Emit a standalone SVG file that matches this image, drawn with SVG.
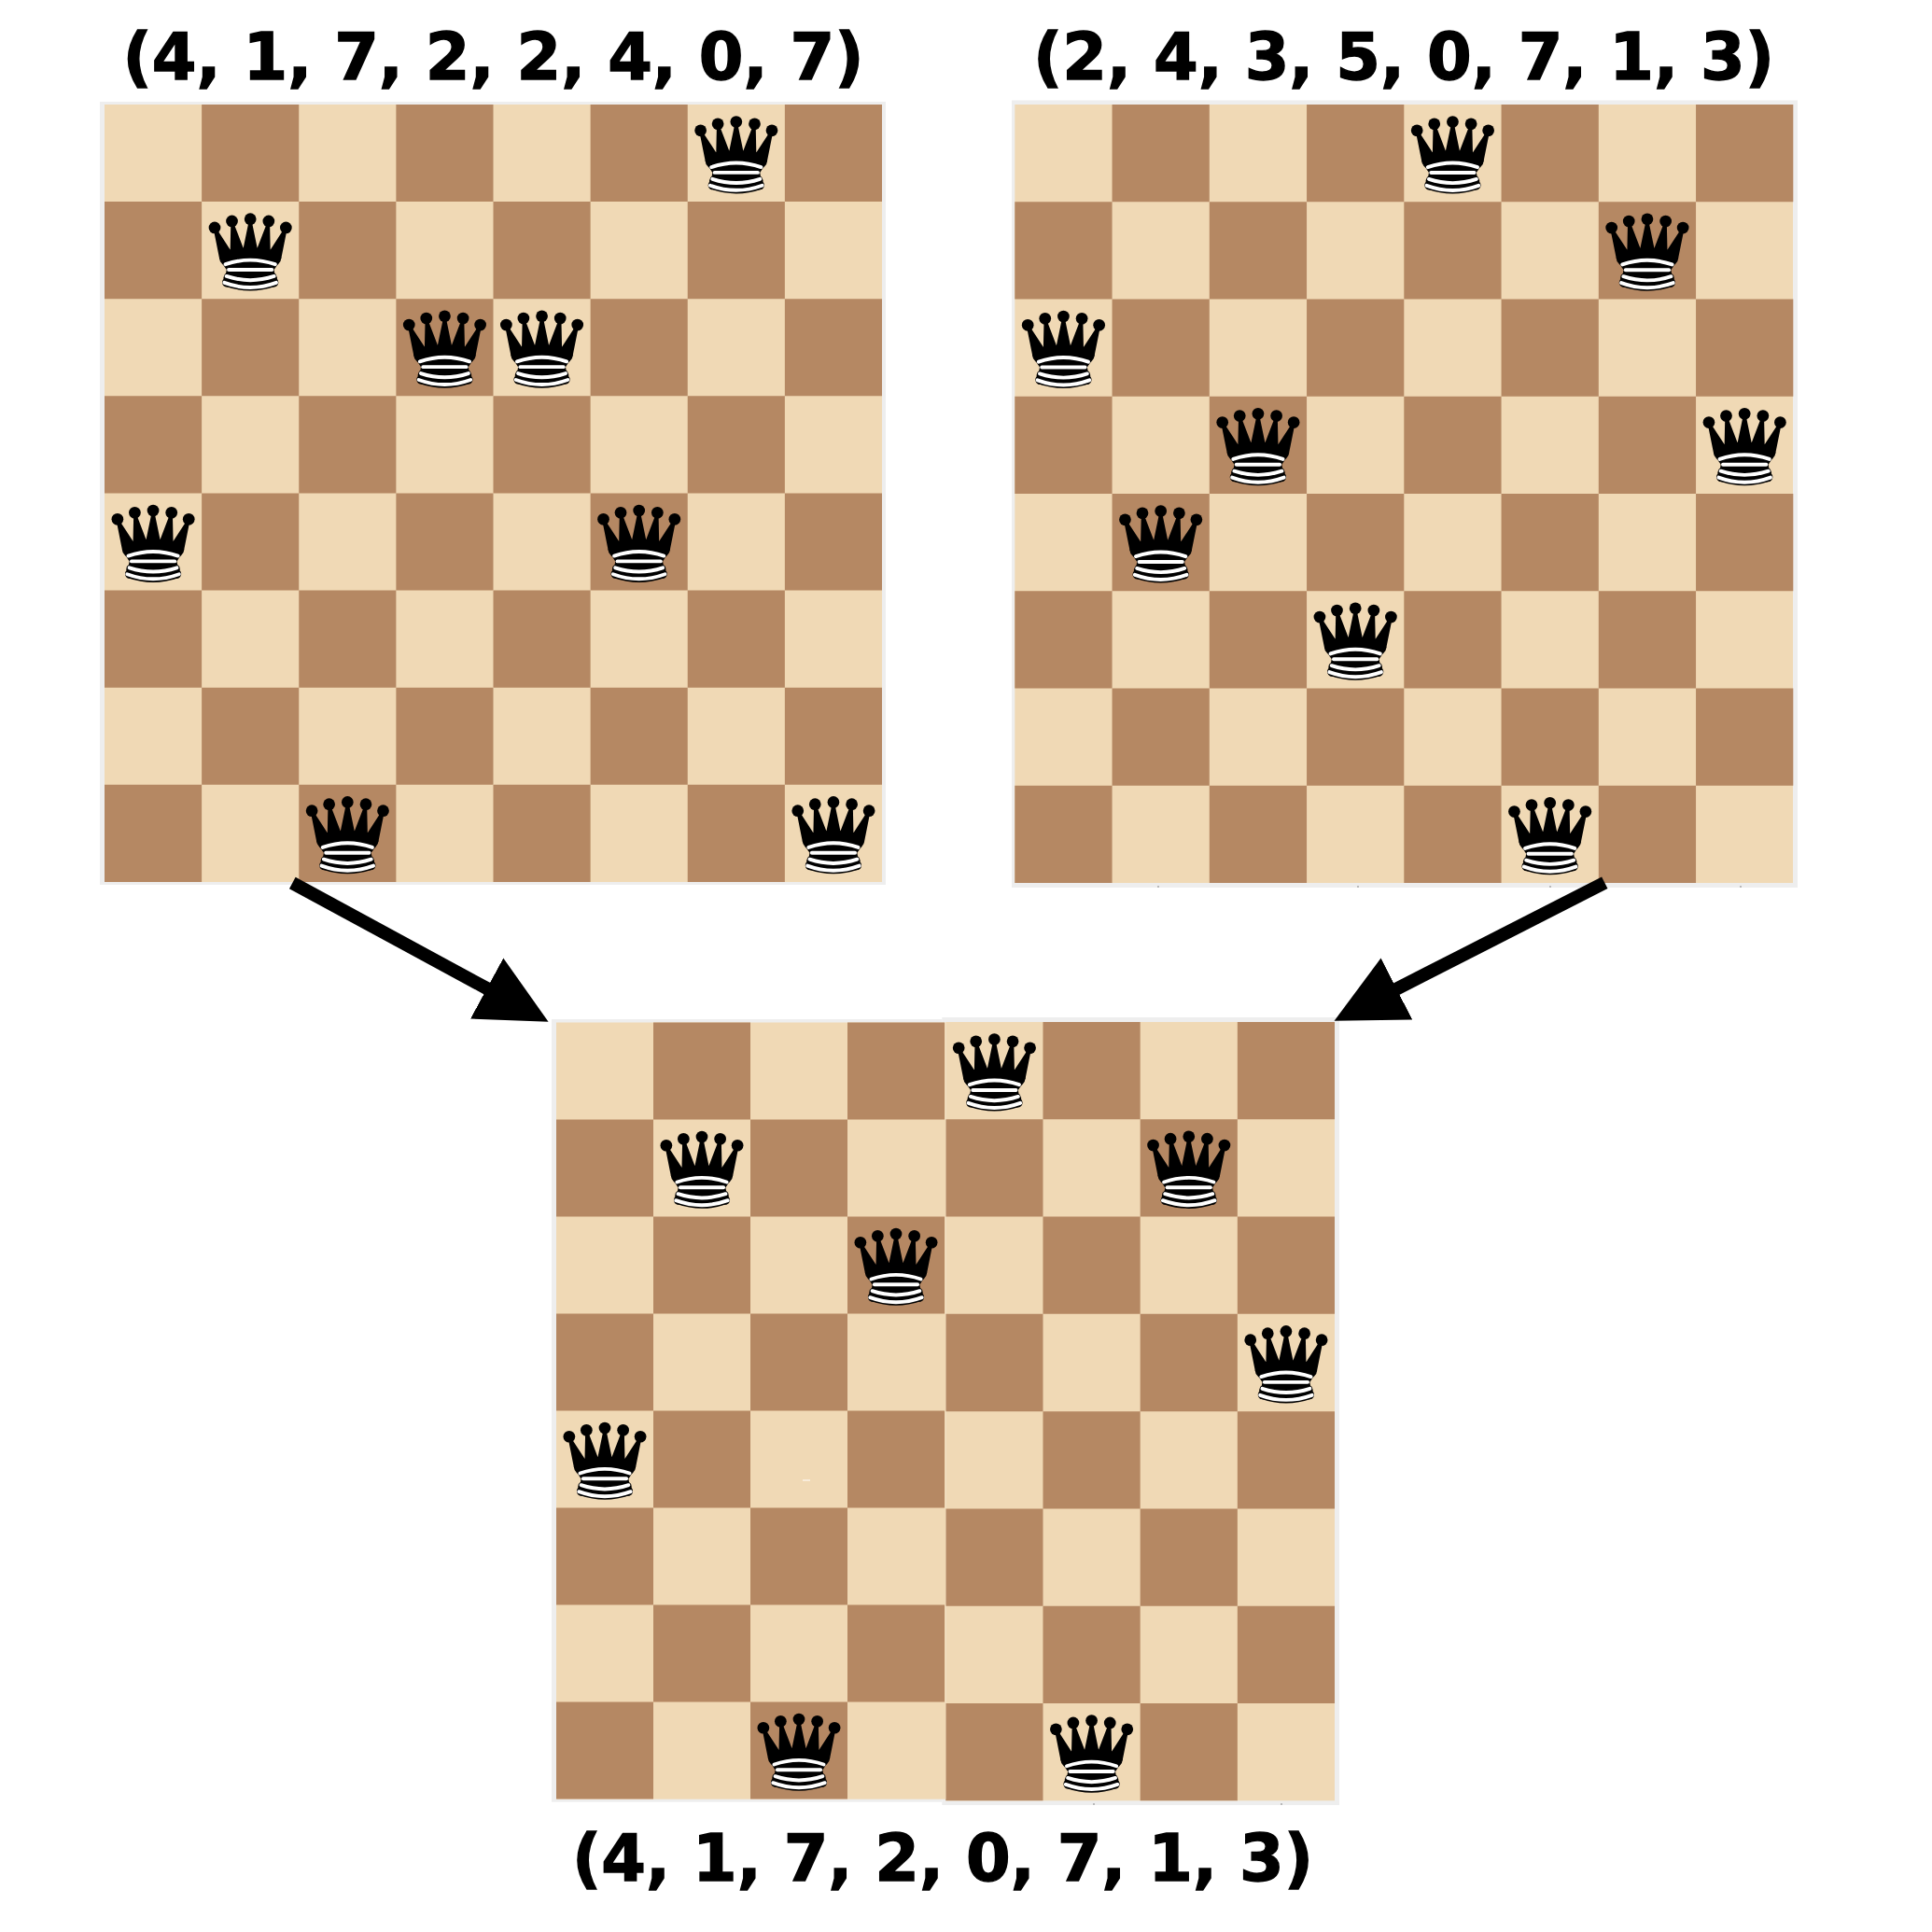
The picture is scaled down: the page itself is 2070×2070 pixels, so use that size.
<svg xmlns="http://www.w3.org/2000/svg" xmlns:xlink="http://www.w3.org/1999/xlink" width="2070" height="2070" viewBox="0 0 2070 2070">
<style>
.frame{fill:#eeeeee}
.light{fill:#f0d9b5}
.dark{fill:#b58863}
.label{font-family:"DejaVu Sans",Verdana,sans-serif;font-weight:bold;font-size:68.6px;fill:#000;stroke:#000;stroke-width:1.4px;text-anchor:middle}
.q-b{fill:#000;stroke:#000;stroke-width:1.7;stroke-linecap:round;stroke-linejoin:round}
.q-line{fill:none;stroke:#000;stroke-width:1.5;stroke-linecap:butt}
.q-w{fill:none;stroke:#fff;stroke-width:1.7;stroke-linecap:round}
.conn{fill:none;stroke:#000;stroke-width:14}
.speck{fill:#b9b9b9}
</style>
<defs>
<path id="dl" d="M104 0h104v104h-104zM312 0h104v104h-104zM0 104h104v104h-104zM208 104h104v104h-104zM104 208h104v104h-104zM312 208h104v104h-104zM0 312h104v104h-104zM208 312h104v104h-104zM104 416h104v104h-104zM312 416h104v104h-104zM0 520h104v104h-104zM208 520h104v104h-104zM104 624h104v104h-104zM312 624h104v104h-104zM0 728h104v104h-104zM208 728h104v104h-104z"/>
<path id="dr" d="M520 0h104v104h-104zM728 0h104v104h-104zM416 104h104v104h-104zM624 104h104v104h-104zM520 208h104v104h-104zM728 208h104v104h-104zM416 312h104v104h-104zM624 312h104v104h-104zM520 416h104v104h-104zM728 416h104v104h-104zM416 520h104v104h-104zM624 520h104v104h-104zM520 624h104v104h-104zM728 624h104v104h-104zM416 728h104v104h-104zM624 728h104v104h-104z"/>
<g id="queen" transform="scale(2.311)">
<g fill="#000"><circle cx="6" cy="12" r="2.75"/><circle cx="14" cy="9" r="2.75"/><circle cx="22.5" cy="8" r="2.75"/><circle cx="31" cy="9" r="2.75"/><circle cx="39" cy="12" r="2.75"/></g>
<path class="q-b" style="stroke-linecap:butt" d="M9 26C17.5 24.5 30 24.5 36 26L38.5 13.5L31 25L30.7 10.9L25.5 24.5L22.5 10L19.5 24.5L14.3 10.9L14 25L6.5 13.5L9 26z"/>
<path class="q-b" d="M9 26c0 2 1.5 2 2.5 4c1 1.5 1 1 .5 3.5c-1.5 1-1 2.5-1 2.5c-1.5 1.5 0 2.5 0 2.5c6.5 1 16.5 1 23 0c0 0 1.5-1 0-2.5c0 0 .5-1.5-1-2.5c-.5-2.5-.5-2 .5-3.5c1-2 2.5-2 2.5-4c-8.5-1.5-18.5-1.5-27 0z"/>
<path class="q-line" d="M11 38.5A35 35 1 0 0 34 38.5"/>
<path class="q-w" d="M11 29A35 35 1 0 1 34 29"/>
<path class="q-w" d="M12.5 31.5L32.5 31.5"/>
<path class="q-w" d="M11.5 34.5A35 35 1 0 0 33.5 34.5"/>
<path class="q-w" d="M10.5 37.5A35 35 1 0 0 34.5 37.5"/>
</g>
<marker id="head" markerUnits="userSpaceOnUse" markerWidth="76" markerHeight="76" refX="1" refY="38" orient="auto" viewBox="0 0 76 76"><path d="M0 1L75 38L0 75z" fill="#000"/></marker>
</defs>
<rect width="2070" height="2070" fill="#fff"/>

<g id="board-1">
<rect class="frame" x="107" y="109" width="842" height="839"/>
<rect class="light" x="112" y="112" width="833" height="833"/>
<g transform="translate(112 112) scale(1.0012)">
<use class="dark" href="#dl"/><use class="dark" href="#dr"/>
<use href="#queen" x="0" y="416"/><use href="#queen" x="104" y="104"/><use href="#queen" x="208" y="728"/><use href="#queen" x="312" y="208"/><use href="#queen" x="416" y="208"/><use href="#queen" x="520" y="416"/><use href="#queen" x="624" y="0"/><use href="#queen" x="728" y="728"/>
</g>
</g>

<g id="board-2">
<rect class="frame" x="1084" y="107.5" width="842" height="843.5"/>
<rect class="light" x="1087.3" y="112" width="833.7" height="834"/>
<g transform="translate(1087.3 112) scale(1.0024)">
<use class="dark" href="#dl"/><use class="dark" href="#dr"/>
<use href="#queen" x="0" y="208"/><use href="#queen" x="104" y="416"/><use href="#queen" x="208" y="312"/><use href="#queen" x="312" y="520"/><use href="#queen" x="416" y="0"/><use href="#queen" x="520" y="728"/><use href="#queen" x="624" y="104"/><use href="#queen" x="728" y="312"/>
</g>
<path class="speck" d="M1240 949h2v2h-2zM1454 949h2v2h-2zM1660 949h2v2h-2zM1864 949h2v2h-2z"/>
</g>

<g id="board-3">
<g id="board-3-right">
<rect class="frame" x="1009.3" y="1090" width="425.7" height="844"/>
<rect class="light" x="1013.3" y="1095" width="416.7" height="834.3"/>
<g transform="translate(596.6 1095) scale(1.0017 1.0028)">
<use class="dark" href="#dr"/>
<use href="#queen" x="416" y="0"/><use href="#queen" x="520" y="728"/><use href="#queen" x="624" y="104"/><use href="#queen" x="728" y="312"/>
</g>
<path class="speck" d="M1171 1932h2v2h-2zM1372 1932h2v2h-2z"/>
</g>
<g id="board-3-left">
<rect class="frame" x="591" y="1092" width="418.3" height="838.7"/>
<rect class="light" x="596" y="1095.5" width="417.3" height="832.2"/>
<g transform="translate(596 1095.5)">
<use class="dark" href="#dl"/>
<use href="#queen" x="0" y="416"/><use href="#queen" x="104" y="104"/><use href="#queen" x="208" y="728"/><use href="#queen" x="312" y="208"/>
</g>
<rect x="860" y="1585.5" width="8" height="1" fill="#fff"/>
</g>
</g>

<g id="connectors">
<line class="conn" x1="313.3" y1="946" x2="522.5" y2="1059.5" marker-end="url(#head)"/>
<line class="conn" x1="1719.3" y1="945.8" x2="1495.5" y2="1060" marker-end="url(#head)"/>
</g>

<g id="labels">
<text class="label" x="528.5" y="85">(4, 1, 7, 2, 2, 4, 0, 7)</text>
<text class="label" x="1504" y="85">(2, 4, 3, 5, 0, 7, 1, 3)</text>
<text class="label" x="1010" y="2015">(4, 1, 7, 2, 0, 7, 1, 3)</text>
</g>
</svg>
